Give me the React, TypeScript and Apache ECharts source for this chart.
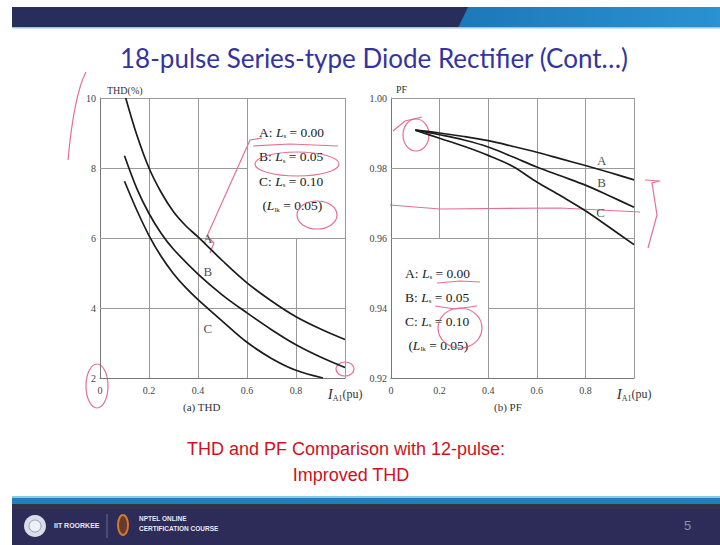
import React, { useEffect, useRef } from "react";
import * as echarts from "echarts";

// ---------- DATA ----------
const THD_A_X = [0.105, 0.15, 0.2, 0.25, 0.3, 0.35, 0.4, 0.5, 0.6, 0.7, 0.8, 0.9, 1.0];
const THD_A = [10.0, 8.95, 8.0, 7.3, 6.75, 6.35, 6.03, 5.35, 4.72, 4.2, 3.75, 3.4, 3.1];
const THD_B_X = [0.1, 0.15, 0.2, 0.25, 0.3, 0.4, 0.5, 0.6, 0.7, 0.8, 0.9, 1.0];
const THD_B = [8.35, 7.42, 6.7, 6.13, 5.68, 4.97, 4.37, 3.86, 3.38, 2.95, 2.6, 2.3];
const THD_C_X = [0.1, 0.15, 0.2, 0.25, 0.3, 0.35, 0.4, 0.5, 0.6, 0.7, 0.8, 0.91];
const THD_C = [7.62, 6.8, 6.07, 5.47, 4.98, 4.58, 4.24, 3.62, 3.02, 2.56, 2.22, 2.0];

const PF_X = [0.1, 0.2, 0.3, 0.4, 0.5, 0.6, 0.7, 0.8, 0.9, 1.0];
const PF_A = [0.9908, 0.99, 0.989, 0.9878, 0.9862, 0.9845, 0.9826, 0.9807, 0.9787, 0.9766];
const PF_B = [0.9908, 0.9895, 0.988, 0.986, 0.9832, 0.9803, 0.9777, 0.9751, 0.972, 0.9688];
const PF_C = [0.9908, 0.9885, 0.9862, 0.9836, 0.9805, 0.976, 0.972, 0.9678, 0.963, 0.9581];

const CURVE_NAMES = ["A", "B", "C"];
const THD_LABEL_POS = [[0.44, 5.98], [0.44, 5.03], [0.44, 3.41]];
const PF_LABEL_POS = [[0.867, 0.9821], [0.867, 0.9759], [0.862, 0.9674]];

// grid segments (axis units)
const THD_GRID_H = [[10, 0, 1], [8, 0, 0.6], [6, 0, 1], [4, 0, 1]];
const THD_GRID_V = [[0.2, 2, 10], [0.4, 2, 10], [0.6, 2, 10], [0.8, 2, 6], [1.0, 2, 10]];
const PF_GRID_H = [[1.0, 0, 1], [0.98, 0, 1], [0.96, 0, 1], [0.94, 0.4, 1]];
const PF_GRID_V = [[0.2, 0.96, 1.0], [0.4, 0.92, 1.0], [0.6, 0.92, 1.0], [0.8, 0.92, 1.0], [1.0, 0.92, 1.0]];

const LEGEND_LINES = [
  "{t|A: }{i|L}{s|s}{t| = 0.00}",
  "{t|B: }{i|L}{s|s}{t| = 0.05}",
  "{t|C: }{i|L}{s|s}{t| = 0.10}",
  "{t| (}{i|L}{s|lk}{t| = 0.05)}",
];

const TITLE = "18-pulse Series-type Diode Rectifier (Cont\u2026)";
const NOTE1 = "THD and PF Comparison with 12-pulse:";
const NOTE2 = "Improved THD";

const SERIF = "'Liberation Serif', 'DejaVu Serif', serif";
const PINK = "#e0567e";

const pairs = (xs: number[], ys: number[]) => xs.map((x, i) => [x, ys[i]]);

function gridSeries(h: number[][], v: number[][], idx: number) {
  const data = [
    ...h.map(([y, x0, x1]) => ({ coords: [[x0, y], [x1, y]] })),
    ...v.map(([x, y0, y1]) => ({ coords: [[x, y0], [x, y1]] })),
  ];
  return {
    type: "lines",
    coordinateSystem: "cartesian2d",
    xAxisIndex: idx,
    yAxisIndex: idx,
    silent: true,
    z: 1,
    lineStyle: { color: "#9a9a9a", width: 1, opacity: 1 },
    data,
  };
}

function curve(data: number[][], idx: number) {
  return {
    type: "line",
    xAxisIndex: idx,
    yAxisIndex: idx,
    data,
    smooth: 0.35,
    showSymbol: false,
    silent: true,
    z: 3,
    lineStyle: { color: "#1c1c1c", width: 1.7 },
  };
}

function labelSeries(pos: number[][], idx: number) {
  return {
    type: "scatter",
    xAxisIndex: idx,
    yAxisIndex: idx,
    symbolSize: 1,
    silent: true,
    itemStyle: { color: "rgba(0,0,0,0)" },
    label: {
      show: true,
      position: "inside",
      formatter: "{b}",
      fontFamily: SERIF,
      fontSize: 13,
      color: "#222",
    },
    data: pos.map((p, i) => ({ name: CURVE_NAMES[i], value: p })),
  };
}

const richAxis = {
  i: { fontFamily: SERIF, fontStyle: "italic", fontSize: 15, color: "#333" },
  sub: { fontFamily: SERIF, fontSize: 8, color: "#333", padding: [9, 0, 0, 0] },
  n: { fontFamily: SERIF, fontSize: 12, color: "#333" },
};

function xAxis(idx: number) {
  return {
    type: "value",
    gridIndex: idx,
    min: 0,
    max: 1,
    interval: 0.2,
    axisLine: { show: true, lineStyle: { color: "#777", width: 1 } },
    axisTick: { show: false },
    splitLine: { show: false },
    axisLabel: {
      margin: 7,
      fontFamily: SERIF,
      fontSize: 10,
      color: "#444",
      formatter: (v: number) =>
        Math.abs(v - 1) < 1e-6 ? "{i|I}{sub|A1}{n|(pu)}" : v === 0 ? "0" : v.toFixed(1),
      rich: richAxis,
    },
  };
}

const legendRich = {
  t: { fontFamily: SERIF, fontSize: 13.5, color: "#222" },
  i: { fontFamily: SERIF, fontSize: 13.5, fontStyle: "italic", color: "#222" },
  s: { fontFamily: SERIF, fontSize: 7, color: "#222", padding: [8, 0, 0, 0] },
};

function legendGraphics(x: number, y: number, step: number) {
  return LEGEND_LINES.map((txt, i) => ({
    type: "text",
    left: x,
    top: y + i * step,
    style: { text: txt, rich: legendRich, fill: "#222" },
  }));
}

export default function App() {
  const ref = useRef<HTMLDivElement>(null);
  useEffect(() => {
    document.body.style.margin = "0";
    if (!ref.current) return;
    const chart = echarts.init(ref.current, null, { renderer: "svg" });
    const pinkLine = { stroke: PINK, lineWidth: 1.2, fill: "none", opacity: 0.85 };
    const noteFont = "18px 'Liberation Sans', Arial, sans-serif";
    const option: any = {
      animation: false,
      backgroundColor: "#ffffff",
      grid: [
        { left: 100, top: 98, width: 245, height: 280 },
        { left: 391, top: 98, width: 243, height: 280 },
      ],
      xAxis: [xAxis(0), xAxis(1)],
      yAxis: [
        {
          type: "value",
          gridIndex: 0,
          min: 2,
          max: 10,
          interval: 2,
          axisLine: { show: true, lineStyle: { color: "#777", width: 1 } },
          axisTick: { show: false },
          splitLine: { show: false },
          axisLabel: { margin: 4, fontFamily: SERIF, fontSize: 10, color: "#444" },
        },
        {
          type: "value",
          gridIndex: 1,
          min: 0.92,
          max: 1.0,
          interval: 0.02,
          axisLine: { show: true, lineStyle: { color: "#777", width: 1 } },
          axisTick: { show: false },
          splitLine: { show: false },
          axisLabel: {
            margin: 4,
            fontFamily: SERIF,
            fontSize: 10,
            color: "#444",
            formatter: (v: number) => v.toFixed(2),
          },
        },
      ],
      series: [
        gridSeries(THD_GRID_H, THD_GRID_V, 0),
        gridSeries(PF_GRID_H, PF_GRID_V, 1),
        curve(pairs(THD_A_X, THD_A), 0),
        curve(pairs(THD_B_X, THD_B), 0),
        curve(pairs(THD_C_X, THD_C), 0),
        curve(pairs(PF_X, PF_A), 1),
        curve(pairs(PF_X, PF_B), 1),
        curve(pairs(PF_X, PF_C), 1),
        labelSeries(THD_LABEL_POS, 0),
        labelSeries(PF_LABEL_POS, 1),
      ],
      graphic: [
        // top band
        { type: "rect", shape: { x: 12, y: 7, width: 708, height: 21 }, style: { fill: "#282d5c" } },
        {
          type: "polygon",
          shape: { points: [[468, 7], [720, 7], [720, 28], [458, 28]] },
          style: {
            fill: new echarts.graphic.LinearGradient(0, 0, 1, 0, [
              { offset: 0, color: "#1d78b8" },
              { offset: 1, color: "#2a92d2" },
            ]),
          },
        },
        { type: "rect", shape: { x: 12, y: 27, width: 708, height: 1.5 }, style: { fill: "#9cc6e0" } },
        // title
        {
          type: "text",
          x: 374,
          y: 58,
          style: {
            text: TITLE,
            font: "26px Lato, 'Open Sans', sans-serif",
            fill: "#3434a0",
            align: "center",
            verticalAlign: "middle",
          },
        },
        // axis names
        { type: "text", left: 107, top: 85, style: { text: "THD(%)", font: `10px ${SERIF}`, fill: "#333" } },
        { type: "text", left: 396, top: 84, style: { text: "PF", font: `10px ${SERIF}`, fill: "#333" } },
        // subcaptions
        { type: "text", left: 183, top: 401, style: { text: "(a) THD", font: `11px ${SERIF}`, fill: "#333" } },
        { type: "text", left: 494, top: 401, style: { text: "(b) PF", font: `11px ${SERIF}`, fill: "#333" } },
        // legends
        ...legendGraphics(259, 125, 24.5),
        ...legendGraphics(405, 266, 24),
        // red notes
        {
          type: "text",
          x: 346,
          y: 449,
          style: { text: NOTE1, font: noteFont, fill: "#d01020", align: "center", verticalAlign: "middle" },
        },
        {
          type: "text",
          x: 351,
          y: 475,
          style: { text: NOTE2, font: noteFont, fill: "#d01020", align: "center", verticalAlign: "middle" },
        },
        // footer
        { type: "rect", shape: { x: 12, y: 496, width: 708, height: 2 }, style: { fill: "#86cbe6" } },
        { type: "rect", shape: { x: 12, y: 498, width: 708, height: 6 }, style: { fill: "#1f7fc0" } },
        { type: "rect", shape: { x: 12, y: 504, width: 708, height: 41 }, style: { fill: "#2d2c58" } },
        { type: "rect", shape: { x: 12, y: 504, width: 708, height: 5 }, style: { fill: "#30344a" } },
        { type: "circle", shape: { cx: 35, cy: 526, r: 11 }, style: { fill: "#d9dde8" } },
        { type: "circle", shape: { cx: 35, cy: 526, r: 6 }, style: { fill: "#eef0f5", stroke: "#9aa0b8", lineWidth: 1 } },
        { type: "text", left: 54, top: 522, style: { text: "IIT ROORKEE", font: "bold 7px 'Liberation Sans', sans-serif", fill: "#e8e8f0" } },
        { type: "line", shape: { x1: 107, y1: 514, x2: 107, y2: 538 }, style: { stroke: "#6a6c90", lineWidth: 1 } },
        { type: "ellipse", shape: { cx: 123, cy: 525, rx: 5, ry: 10 }, style: { fill: "#6a3a30", stroke: "#d07a30", lineWidth: 2 } },
        { type: "text", left: 139, top: 515, style: { text: "NPTEL ONLINE", font: "bold 6.5px 'Liberation Sans', sans-serif", fill: "#e8e8f0" } },
        { type: "text", left: 139, top: 525, style: { text: "CERTIFICATION COURSE", font: "bold 6.5px 'Liberation Sans', sans-serif", fill: "#e8e8f0" } },
        { type: "text", left: 684, top: 519, style: { text: "5", font: "13px 'Liberation Sans', sans-serif", fill: "#8a8cb0" } },
        // pink annotations
        { type: "bezierCurve", shape: { x1: 86, y1: 72, cpx1: 74, cpy1: 95, x2: 68, y2: 160 }, style: pinkLine },
        { type: "ellipse", shape: { cx: 97, cy: 386, rx: 11, ry: 22 }, style: pinkLine },
        { type: "polyline", shape: { points: [[253, 146], [290, 144], [338, 146]] }, style: pinkLine },
        { type: "ellipse", shape: { cx: 297, cy: 164, rx: 42, ry: 12 }, style: pinkLine },
        { type: "ellipse", shape: { cx: 317, cy: 215, rx: 20, ry: 14 }, style: pinkLine },
        { type: "polyline", shape: { points: [[262, 138], [250, 140], [207, 236], [214, 243], [210, 253]] }, style: pinkLine },
        { type: "ellipse", shape: { cx: 345, cy: 369, rx: 9, ry: 7 }, style: pinkLine },
        { type: "ellipse", shape: { cx: 416, cy: 135, rx: 13, ry: 16 }, style: pinkLine },
        { type: "polyline", shape: { points: [[393, 131], [405, 121], [422, 117]] }, style: pinkLine },
        { type: "polyline", shape: { points: [[390, 205], [440, 209], [560, 208], [640, 212]] }, style: pinkLine },
        { type: "polyline", shape: { points: [[645, 180], [660, 181], [652, 183], [657, 215], [648, 248]] }, style: pinkLine },
        { type: "polyline", shape: { points: [[437, 283], [460, 281], [480, 282]] }, style: pinkLine },
        { type: "polyline", shape: { points: [[435, 306], [455, 309], [477, 306]] }, style: pinkLine },
        { type: "ellipse", shape: { cx: 460, cy: 328, rx: 22, ry: 20 }, style: pinkLine },
      ],
    };
    chart.setOption(option);
    return () => chart.dispose();
  }, []);
  return (
    <div
      ref={ref}
      style={{ width: 720, height: 545, position: "absolute", left: 0, top: 0, background: "#fff" }}
    />
  );
}
